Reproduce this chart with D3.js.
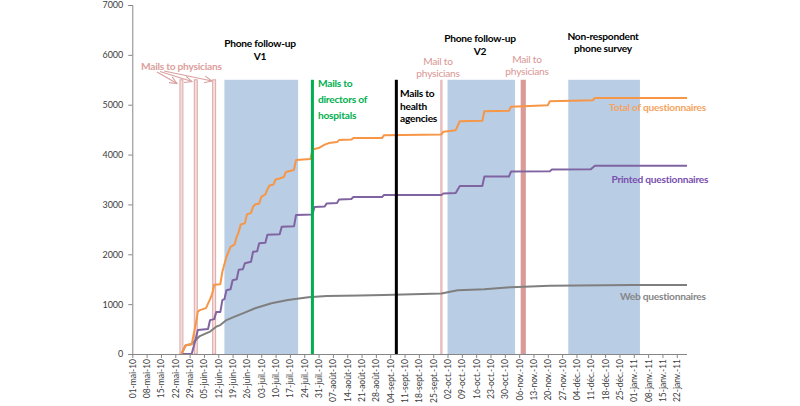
<!DOCTYPE html>
<html><head><meta charset="utf-8">
<script src="https://cdn.jsdelivr.net/npm/d3@7/dist/d3.min.js"></script>
<style>
body{margin:0;background:#fff;}
svg{display:block;font-family:Lato,"Open Sans",sans-serif;}
</style>
</head><body><svg id="c" width="800" height="406"></svg>
<script>
// ---------------- DATA ----------------
const yTicks = [0,1000,2000,3000,4000,5000,6000,7000];
const tickLabels = ["01-mai-10","08-mai-10","15-mai-10","22-mai-10","29-mai-10","05-juin-10","12-juin-10","19-juin-10","26-juin-10","03-juil.-10","10-juil.-10","17-juil.-10","24-juil.-10","31-juil.-10","07-août-10","14-août-10","21-août-10","28-août-10","04-sept.-10","11-sept.-10","18-sept.-10","25-sept.-10","02-oct.-10","09-oct.-10","16-oct.-10","23-oct.-10","30-oct.-10","06-nov.-10","13-nov.-10","20-nov.-10","27-nov.-10","04-déc.-10","11-déc.-10","18-déc.-10","25-déc.-10","01-janv.-11","08-janv.-11","15-janv.-11","22-janv.-11"];

const totalDates = ["2010-05-25","2010-05-27","2010-05-28","2010-05-30","2010-06-01","2010-06-02","2010-06-03","2010-06-06","2010-06-08","2010-06-09","2010-06-10","2010-06-13","2010-06-14","2010-06-15","2010-06-16","2010-06-17","2010-06-18","2010-06-20","2010-06-21","2010-06-22","2010-06-23","2010-06-25","2010-06-26","2010-06-28","2010-06-29","2010-06-30","2010-07-02","2010-07-03","2010-07-05","2010-07-06","2010-07-07","2010-07-09","2010-07-10","2010-07-12","2010-07-14","2010-07-15","2010-07-18","2010-07-19","2010-07-20","2010-07-27","2010-07-28","2010-07-31","2010-08-03","2010-08-05","2010-08-09","2010-08-10","2010-08-16","2010-08-17","2010-08-31","2010-09-01","2010-09-29","2010-09-30","2010-10-06","2010-10-08","2010-10-19","2010-10-20","2010-11-01","2010-11-02","2010-11-20","2010-11-21","2010-12-12","2010-12-13","2011-01-27"];
const totalValues = [0,170,185,190,600,850,880,920,1100,1200,1390,1400,1650,1800,1950,2050,2150,2200,2350,2450,2600,2620,2800,2830,2950,3000,3020,3150,3200,3300,3380,3400,3500,3520,3550,3650,3680,3700,3890,3910,4100,4130,4200,4230,4250,4290,4300,4330,4330,4390,4405,4460,4490,4670,4680,4870,4880,4960,4990,5070,5090,5135,5135];

const printedDates = ["2010-05-25","2010-05-30","2010-06-01","2010-06-02","2010-06-07","2010-06-08","2010-06-10","2010-06-11","2010-06-13","2010-06-14","2010-06-15","2010-06-16","2010-06-18","2010-06-19","2010-06-21","2010-06-22","2010-06-24","2010-06-25","2010-06-28","2010-06-29","2010-07-01","2010-07-02","2010-07-05","2010-07-06","2010-07-12","2010-07-13","2010-07-19","2010-07-20","2010-07-28","2010-07-29","2010-08-03","2010-08-04","2010-08-09","2010-08-10","2010-08-16","2010-08-17","2010-08-31","2010-09-01","2010-09-29","2010-09-30","2010-10-06","2010-10-08","2010-10-19","2010-10-20","2010-11-01","2010-11-02","2010-11-21","2010-11-22","2010-12-11","2010-12-13","2011-01-27"];
const printedValues = [0,0,300,480,500,680,700,840,840,1080,1100,1280,1300,1480,1500,1690,1700,1820,1850,2050,2060,2220,2230,2390,2400,2550,2560,2790,2800,2950,2960,3020,3030,3100,3110,3150,3150,3190,3190,3220,3230,3370,3370,3560,3560,3660,3665,3700,3705,3775,3775];

const webDates = ["2010-05-25","2010-05-27","2010-05-30","2010-06-01","2010-06-03","2010-06-06","2010-06-08","2010-06-11","2010-06-13","2010-06-16","2010-06-20","2010-06-24","2010-06-30","2010-07-08","2010-07-16","2010-07-26","2010-08-04","2010-08-20","2010-09-01","2010-09-29","2010-10-07","2010-10-20","2010-11-02","2010-11-21","2010-12-31","2011-01-27"];
const webValues = [0,170,200,280,360,415,450,548,580,680,750,816,917,1017,1083,1136,1163,1175,1185,1215,1280,1300,1340,1370,1385,1385];

// event markers
const physicianMailDates = ["2010-05-25","2010-06-01","2010-06-10"];
const phonePeriods = [["2010-06-15","2010-07-21"],["2010-10-02","2010-11-04"],["2010-11-30","2011-01-04"]];
const directorsMailDate = "2010-07-28";
const agenciesMailDate = "2010-09-07";
const physicianMail2Date = "2010-09-29";
const physicianMail3Date = "2010-11-08";
const markerTop = 5500;

// ---------------- CHART ----------------
const parse = d3.timeParse("%Y-%m-%d");
const svg = d3.select("#c");
const x = d3.scaleTime().domain([parse("2010-05-01"), parse("2011-01-27")]).range([132.3, 687]);
const y = d3.scaleLinear().domain([0, 7000]).range([354, 5]);

// shaded phone periods
svg.append("g").selectAll("rect").data(phonePeriods).join("rect")
  .attr("x", d => x(parse(d[0])))
  .attr("width", d => x(parse(d[1])) - x(parse(d[0])))
  .attr("y", y(markerTop)).attr("height", y(0) - y(markerTop))
  .attr("fill", "#b9cde5");

// physician mail lines (outlined)
svg.append("g").selectAll("rect").data(physicianMailDates).join("rect")
  .attr("x", d => x(parse(d)) - 1.5).attr("width", 3)
  .attr("y", y(markerTop)).attr("height", y(0) - y(markerTop))
  .attr("fill", "#f4dede").attr("stroke", "#d9a0a0").attr("stroke-width", 0.9);

svg.append("rect").attr("x", x(parse(physicianMail2Date)) - 1.2).attr("width", 2.4)
  .attr("y", y(markerTop)).attr("height", y(0) - y(markerTop)).attr("fill", "#e8bcbc");
svg.append("rect").attr("x", x(parse(physicianMail3Date)) - 2.6).attr("width", 5.2)
  .attr("y", y(markerTop)).attr("height", y(0) - y(markerTop)).attr("fill", "#d99a9a");

// series
const mk = (dates, vals) => dates.map((d, i) => [parse(d), vals[i]]);
const line = d3.line().x(d => x(d[0])).y(d => y(d[1]));
const series = [
  {data: mk(webDates, webValues), color: "#7f7f7f"},
  {data: mk(printedDates, printedValues), color: "#8064a2"},
  {data: mk(totalDates, totalValues), color: "#f79646"}
];
svg.append("g").selectAll("path").data(series).join("path")
  .attr("d", d => line(d.data)).attr("fill", "none")
  .attr("stroke", d => d.color).attr("stroke-width", 2).attr("stroke-linejoin", "round");

// green & black lines
svg.append("rect").attr("x", x(parse(directorsMailDate)) - 1.5).attr("width", 3)
  .attr("y", y(markerTop)).attr("height", y(0) - y(markerTop)).attr("fill", "#00b050");
svg.append("rect").attr("x", x(parse(agenciesMailDate)) - 1.5).attr("width", 3)
  .attr("y", y(markerTop)).attr("height", y(0) - y(markerTop)).attr("fill", "#000");

// axes
const yAxis = svg.append("g").attr("transform", "translate(132.3,0)")
  .call(d3.axisLeft(y).tickValues(yTicks).tickSize(4).tickPadding(5).tickFormat(d3.format("d")));
const tickDates = d3.timeSaturday.range(parse("2010-05-01"), parse("2011-01-23"));
const xAxis = svg.append("g").attr("transform", "translate(0,354)")
  .call(d3.axisBottom(x).tickValues(tickDates).tickSize(4).tickFormat((d, i) => tickLabels[i]));
[yAxis, xAxis].forEach(a => {
  a.select(".domain").attr("stroke", "#868686");
  a.selectAll(".tick line").attr("stroke", "#868686");
  a.selectAll("text").attr("fill", "#404040").style("font-size", "9px").style("font-family", "Lato, sans-serif");
});
xAxis.select(".domain").attr("d", "M132.3,0.5H687");
xAxis.selectAll("text").attr("transform", "rotate(-90)").attr("text-anchor", "end")
  .attr("x", -5).attr("y", 0).attr("dy", "0.35em").style("font-size", "8.5px");

// annotations
function txt(lines, cx, cy, color, weight, anchor, size, lh) {
  const t = svg.append("text").attr("fill", color).attr("font-weight", weight)
    .attr("text-anchor", anchor).style("font-size", size + "px").style("letter-spacing", "-0.25px");
  lines.forEach((l, i) => t.append("tspan").attr("x", cx).attr("y", cy + i * lh).attr("dy", "0.35em").text(l));
}
txt(["Phone follow-up", "V1"], 260, 43.5, "#000", "bold", "middle", 10.2, 12.5);
txt(["Phone follow-up", "V2"], 480, 38.5, "#000", "bold", "middle", 10.2, 12.5);
txt(["Non-respondent", "phone survey"], 603, 36.5, "#000", "bold", "middle", 10.2, 12);
txt(["Mails to physicians"], 141, 66, "#dc9e9c", "bold", "start", 10.2, 12);
txt(["Mail to", "physicians"], 438, 61, "#d99694", "normal", "middle", 10.2, 12.5);
txt(["Mail to", "physicians"], 527, 59, "#d99694", "normal", "middle", 10.2, 12);
txt(["Mails to", "directors of", "hospitals"], 318, 83, "#00b050", "bold", "start", 10.2, 16);
txt(["Mails to", "health", "agencies"], 400, 93.5, "#000", "bold", "start", 10.2, 12.5);
txt(["Total of questionnaires"], 609, 107, "#f5a461", "bold", "start", 10.2, 12);
txt(["Printed questionnaires"], 611.5, 179, "#7a4fae", "bold", "start", 10.2, 12);
txt(["Web questionnaires"], 620, 296.5, "#868686", "bold", "start", 10.2, 12);

// arrows
const defs = svg.append("defs");
defs.append("marker").attr("id", "ah").attr("viewBox", "0 0 10 10").attr("refX", 9).attr("refY", 5)
  .attr("markerWidth", 7).attr("markerHeight", 7).attr("orient", "auto")
  .append("path").attr("d", "M0,1 L9,5 L0,9").attr("fill", "none").attr("stroke", "#d9a0a0").attr("stroke-width", 1.3);
const arrows = [[157, 72, 177, 83.5], [160, 71.5, 192, 81.5], [164, 71, 212, 81]];
svg.append("g").selectAll("line").data(arrows).join("line")
  .attr("x1", d => d[0]).attr("y1", d => d[1]).attr("x2", d => d[2]).attr("y2", d => d[3])
  .attr("stroke", "#d9a0a0").attr("stroke-width", 1.2).attr("marker-end", "url(#ah)");
</script>
</body></html>
